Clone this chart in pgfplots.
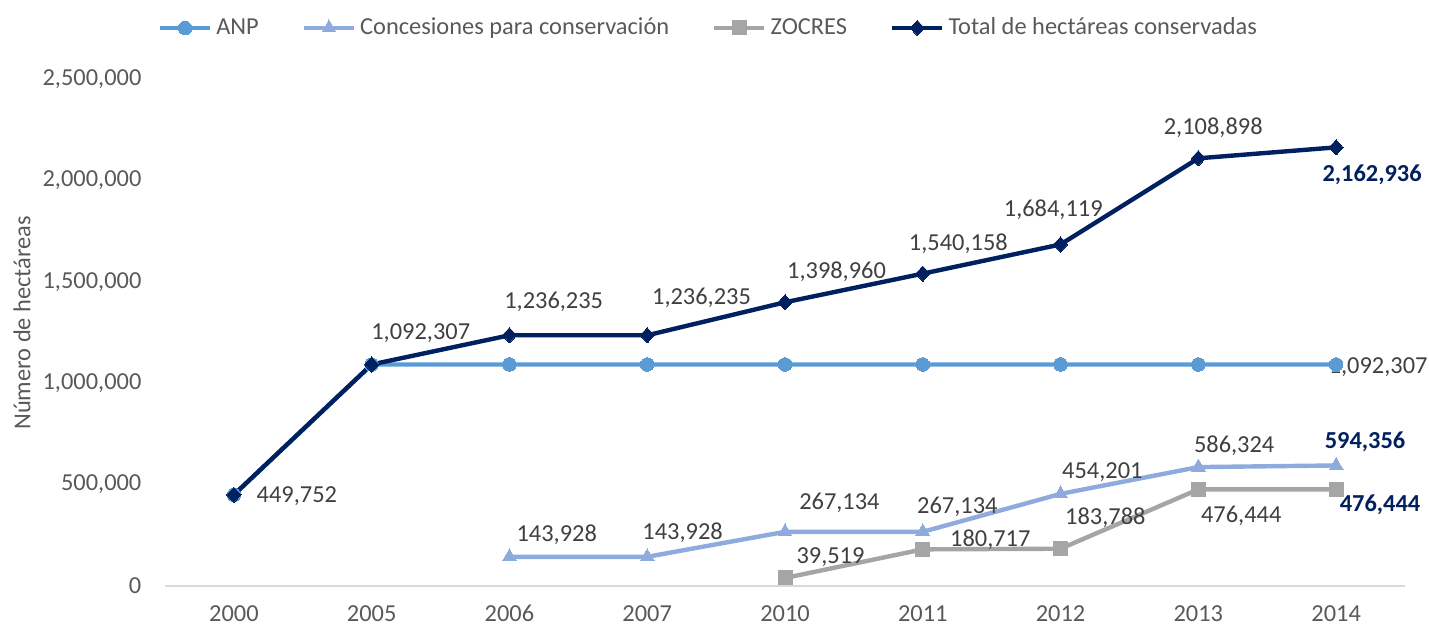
\documentclass[border=0pt]{standalone}
\usepackage{pgfplots}
\pgfplotsset{compat=1.18}
\usepackage{fontspec}
\setmainfont{Carlito}
\definecolor{anp}{HTML}{5B9BD5}
\definecolor{conc}{HTML}{8FAADC}
\definecolor{zoc}{HTML}{A5A5A5}
\definecolor{tot}{HTML}{002060}
\definecolor{lbl}{HTML}{404040}
\definecolor{tck}{HTML}{595959}
\definecolor{axl}{HTML}{D9D9D9}
\tikzset{
  lab/.style={font=\fontsize{12.2}{14}\selectfont, text=lbl, anchor=center, inner sep=0pt},
  blab/.style={font=\fontsize{12.2}{14}\selectfont\bfseries, text=tot, anchor=center, inner sep=0pt},
}
\begin{document}
\begin{tikzpicture}
\useasboundingbox (-82.5pt,-20pt) rectangle (632pt,293pt);
\begin{axis}[
  scale only axis, width=620pt, height=253.5pt,
  xmin=-0.5, xmax=8.5, ymin=0, ymax=2500000,
  xtick={0,...,8},
  xticklabels={2000,2005,2006,2007,2010,2011,2012,2013,2014},
  ytick={0,500000,1000000,1500000,2000000,2500000},
  scaled y ticks=false,
  /pgf/number format/.cd, fixed, precision=0, 1000 sep={,}, assume math mode=true, /pgfplots/.cd,
  axis x line*=bottom, axis y line*=left,
  x axis line style={draw=axl, line width=0.8pt, -},
  y axis line style={draw=none},
  major tick length=0pt,
  tick label style={font=\fontsize{12.2}{14}\selectfont, text=tck},
  xticklabel style={yshift=-6.2pt},
  yticklabel style={anchor=east, xshift=-8.3pt},
  ylabel={Número de hectáreas},
  every axis y label/.style={at={(axis description cs:-0.1153,0.519)}, rotate=90, anchor=center, font=\fontsize{12.2}{14}\selectfont, text=tck},
  clip=false,
  legend style={at={(axis description cs:0.439,1.1006)}, anchor=center, draw=none, fill=none,
    font=\fontsize{12.2}{14}\selectfont, text=tck, legend columns=4,
    /tikz/every even column/.append style={column sep=19.5pt}},
  legend cell align=left,
  legend image code/.code={\draw[mark repeat=2, mark phase=2] plot coordinates {(0pt,0pt) (12.5pt,0pt) (25pt,0pt)};},
  every axis plot/.append style={line width=2.2pt},
]
\addplot[color=anp, mark=*, mark size=3.4pt, mark options={solid, fill=anp, draw=anp, line width=0pt}] coordinates {
 (0,449752) (1,1092307) (2,1092307) (3,1092307) (4,1092307) (5,1092307) (6,1092307) (7,1092307) (8,1092307)};
\addlegendentry{ANP}
\addplot[color=conc, mark=triangle*, mark size=4pt, mark options={solid, fill=conc, draw=conc, line width=0pt}] coordinates {
 (2,143928) (3,143928) (4,267134) (5,267134) (6,454201) (7,586324) (8,594356)};
\addlegendentry{Concesiones para conservación}
\addplot[color=zoc, mark=square*, mark size=3.5pt, mark options={solid, fill=zoc, draw=zoc, line width=0pt}] coordinates {
 (4,39519) (5,180717) (6,183788) (7,476444) (8,476444)};
\addlegendentry{ZOCRES}
\addplot[color=tot, mark=diamond*, mark size=3.8pt, mark options={solid, fill=tot, draw=tot, line width=0pt, xscale=1.25}] coordinates {
 (0,449752) (1,1092307) (2,1236235) (3,1236235) (4,1398960) (5,1540158) (6,1684119) (7,2108898) (8,2162936)};
\addlegendentry{Total de hectáreas conservadas}
% data labels
\node[lab] at (axis cs:0.457,443800) {449,752};
\node[lab] at (axis cs:1.356,1247500) {1,092,307};
\node[lab] at (axis cs:2.321,1400400) {1,236,235};
\node[lab] at (axis cs:3.394,1420100) {1,236,235};
\node[lab] at (axis cs:4.374,1548300) {1,398,960};
\node[lab] at (axis cs:5.258,1686400) {1,540,158};
\node[lab] at (axis cs:5.947,1854000) {1,684,119};
\node[lab] at (axis cs:7.108,2258400) {2,108,898};
\node[blab] at (axis cs:8.261,2026600) {2,162,936};
\node[lab] at (axis cs:8.305,1079900) {1,092,307};
\node[blab] at (axis cs:8.210,710100) {594,356};
\node[lab] at (axis cs:7.260,690300) {586,324};
\node[lab] at (axis cs:6.303,562100) {454,201};
\node[lab] at (axis cs:4.395,409300) {267,134};
\node[lab] at (axis cs:5.251,389600) {267,134};
\node[lab] at (axis cs:4.330,143000) {39,519};
\node[lab] at (axis cs:5.490,226800) {180,717};
\node[lab] at (axis cs:6.325,335300) {183,788};
\node[lab] at (axis cs:7.311,345200) {476,444};
\node[blab] at (axis cs:8.319,399400) {476,444};
\node[lab] at (axis cs:2.343,251500) {143,928};
\node[lab] at (axis cs:3.257,261300) {143,928};
\end{axis}
\end{tikzpicture}
\end{document}
